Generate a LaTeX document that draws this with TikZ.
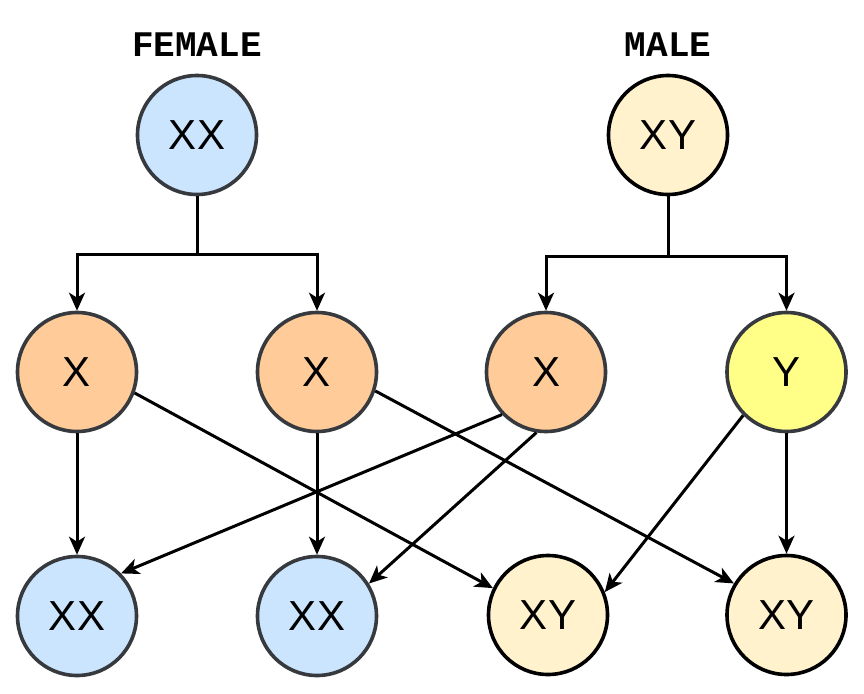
\documentclass[tikz,border=0pt]{standalone}
\usepackage{fontspec}
\setmainfont{Liberation Sans}
\newfontfamily\labfont{Liberation Mono}
\usetikzlibrary{arrows.meta}
\definecolor{cblue}{HTML}{CCE5FF}
\definecolor{corange}{HTML}{FFCC99}
\definecolor{cyellow}{HTML}{FFFF88}
\definecolor{ccream}{HTML}{FFF2CC}
\definecolor{cgray}{HTML}{36393D}
\tikzset{
  chrom/.style={circle, minimum size=119pt, inner sep=0pt, line width=3.6pt,
    font=\fontsize{42}{42}\selectfont},
  fem/.style={chrom, draw=cgray, fill=cblue},
  gam/.style={chrom, draw=cgray, fill=corange},
  ygam/.style={chrom, draw=cgray, fill=cyellow},
  mal/.style={chrom, draw=black, fill=ccream},
  sexlab/.style={font=\labfont\bfseries\fontsize{36}{36}\selectfont},
  conn/.style={line width=3pt, draw=black},
  arr/.style={conn, -{Stealth[length=18pt,width=16pt,inset=5pt]}},
}
\begin{document}
\begin{tikzpicture}[x=1pt,y=-1pt]
\useasboundingbox (0,0) rectangle (864,693);
\node[sexlab] (flab) at (197,45) {FEMALE};
\node[sexlab] (mlab) at (668,45) {MALE};
\node[fem] (fxx) at (197,135) {XX};
\node[mal] (mxy) at (668,135) {XY};
\node[gam] (x1) at (77,372) {X};
\node[gam] (x2) at (317,372) {X};
\node[gam] (x3) at (546,372) {X};
\node[ygam] (y1) at (786.5,372) {Y};
\node[fem] (c1) at (77,616) {XX};
\node[fem] (c2) at (317,616) {XX};
\node[mal] (c3) at (548,615) {XY};
\node[mal] (c4) at (786.5,615) {XY};
\coordinate (fj) at (197,254);
\coordinate (mj) at (668,256);
\draw[conn] (fxx.south) -- (fj);
\draw[arr] (fj) -| (x1.north);
\draw[arr] (fj) -| (x2.north);
\draw[conn] (mxy.south) -- (mj);
\draw[arr] (mj) -| (x3.north);
\draw[arr] (mj) -| (y1.north);
\draw[arr] (x1.south) -- (c1.north);
\draw[arr] (x2.south) -- (c2.north);
\draw[arr] (y1.south) -- (c4.north);
\draw[arr] (x1.-20) -- (c3.154);
\draw[arr] (x2.-18) -- (c4.149);
\draw[arr] (x3.224) -- (c1.44);
\draw[arr] (x3.261) -- (c2.32);
\draw[arr] (y1.225) -- (c3.22);
\end{tikzpicture}
\end{document}
